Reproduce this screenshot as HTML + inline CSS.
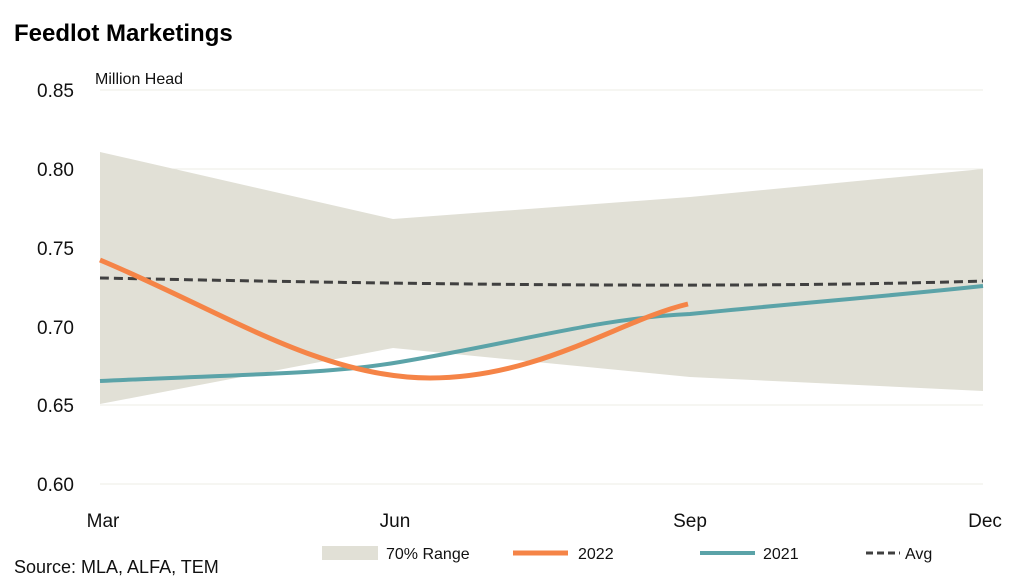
<!DOCTYPE html>
<html><head><meta charset="utf-8"><style>
body{margin:0;background:#fff;}
svg{display:block;font-family:"Liberation Sans",sans-serif;}
</style></head><body>
<svg width="1024" height="586" viewBox="0 0 1024 586">
<text x="14" y="41" font-size="24" font-weight="bold" fill="#000">Feedlot Marketings</text>
<g stroke="#ecece4" stroke-width="1">
<line x1="100" y1="90" x2="983" y2="90"/><line x1="100" y1="169" x2="983" y2="169"/>
<line x1="100" y1="248" x2="983" y2="248"/><line x1="100" y1="327" x2="983" y2="327"/>
<line x1="100" y1="405" x2="983" y2="405"/><line x1="100" y1="484" x2="983" y2="484"/>
</g>
<polygon points="100,152 393,219 690,197 983,169 983,391 690,377 393,348 100,404" fill="#e1e0d6"/>
<g font-size="19" fill="#111" text-anchor="end">
<text x="74" y="97">0.85</text><text x="74" y="176">0.80</text><text x="74" y="255">0.75</text>
<text x="74" y="334">0.70</text><text x="74" y="412">0.65</text><text x="74" y="491">0.60</text>
</g>
<text x="95" y="84" font-size="16" fill="#111">Million Head</text>
<path d="M100,278 C300,282 700,290 983,281" fill="none" stroke="#404040" stroke-width="3" stroke-dasharray="9,5"/>
<path d="M100,381 C250,374 330,374 400,362 C520,342 600,318 690,314 C800,303 900,295 983,286" fill="none" stroke="#5ba3a8" stroke-width="4"/>
<path d="M100,260 C220,310 320,378 430,378 C540,378 620,320 688,304" fill="none" stroke="#f58447" stroke-width="5"/>
<g font-size="19" fill="#111" text-anchor="middle">
<text x="103" y="527">Mar</text><text x="395" y="527">Jun</text><text x="690" y="527">Sep</text><text x="985" y="527">Dec</text>
</g>
<text x="14" y="573" font-size="18" fill="#111">Source: MLA, ALFA, TEM</text>
<rect x="322" y="546" width="56" height="14" fill="#e1e0d6"/>
<text x="386" y="559" font-size="16" fill="#111">70% Range</text>
<line x1="513" y1="553" x2="568" y2="553" stroke="#f58447" stroke-width="5"/>
<text x="578" y="559" font-size="16" fill="#111">2022</text>
<line x1="700" y1="553" x2="755" y2="553" stroke="#5ba3a8" stroke-width="4"/>
<text x="763" y="559" font-size="16" fill="#111">2021</text>
<line x1="866" y1="553" x2="900" y2="553" stroke="#404040" stroke-width="3" stroke-dasharray="7,4"/>
<text x="905" y="559" font-size="16" fill="#111">Avg</text>
</svg>
</body></html>
